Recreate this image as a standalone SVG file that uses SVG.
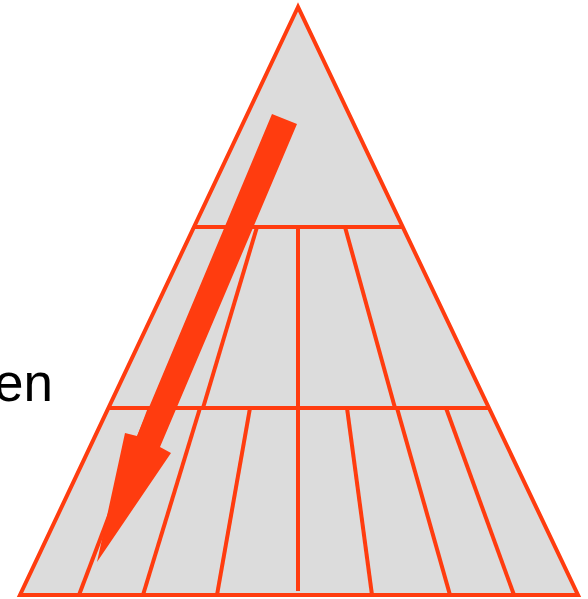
<svg xmlns="http://www.w3.org/2000/svg" width="588" height="599" viewBox="0 0 588 599">
<style>
.tri{fill:#DCDCDC;stroke:#FF3C0F;stroke-width:4;stroke-linejoin:miter}
.ln{stroke:#FF3C0F;stroke-width:4;fill:none}
.arrow{fill:#FF3C0F;stroke:none}
.lbl{font-family:"Liberation Sans",Arial,sans-serif;font-size:53px;fill:#000}
</style>
<rect width="588" height="599" fill="#FFFFFF"/>
<g id="label"><text class="lbl" x="53" y="401" text-anchor="end">en</text></g>
<g id="pyramid">
<polygon class="tri" points="298,7 20,595 578,595"/>
</g>
<g id="connectors">
<line class="ln" x1="193" y1="227" x2="403" y2="227"/>
<line class="ln" x1="108" y1="408" x2="488" y2="408"/>
<line class="ln" x1="257" y1="227" x2="203" y2="408"/>
<line class="ln" x1="298" y1="227" x2="298" y2="408"/>
<line class="ln" x1="345" y1="227" x2="395" y2="408"/>
<line class="ln" x1="150" y1="408" x2="79" y2="595"/>
<line class="ln" x1="200" y1="408" x2="143" y2="595"/>
<line class="ln" x1="250" y1="408" x2="217" y2="595"/>
<line class="ln" x1="298" y1="408" x2="298" y2="591"/>
<line class="ln" x1="347" y1="408" x2="372" y2="595"/>
<line class="ln" x1="397" y1="408" x2="450" y2="595"/>
<line class="ln" x1="446" y1="408" x2="514" y2="595"/>
</g>
<g id="arrow">
<polygon class="arrow" points="272,114 297,124 160,447 171,453 97,562 125,433 137,436"/>
</g>
</svg>
